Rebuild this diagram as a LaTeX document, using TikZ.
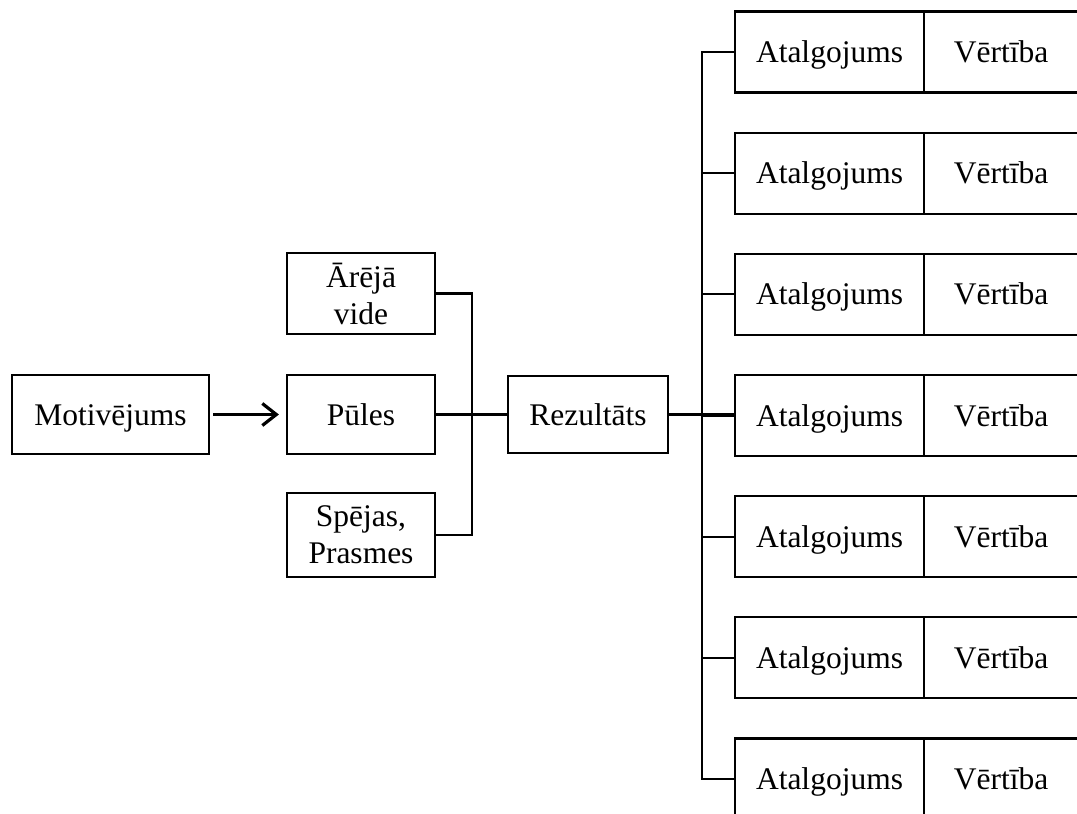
\documentclass[tikz,border=0pt]{standalone}
\usepackage{fontspec}
\setmainfont{Liberation Serif}
\usetikzlibrary{arrows.meta}
\begin{document}
\begin{tikzpicture}[x=1pt,y=-1pt,
  font=\fontsize{31.5}{37}\selectfont,
  box/.style={draw,line width=2.2pt,inner sep=0pt,align=center,anchor=center},
  oneline/.style={text height=28pt,text depth=7pt},
  wire/.style={line width=2.2pt},
  push/.style={line width=3.2pt,-{Straight Barb[length=14pt,width=22pt,line width=3.2pt]}}]
\useasboundingbox (0,0) rectangle (1077,814);
\clip (0,0) rectangle (1077,814);

% left column of factors
\node[box,oneline,minimum width=197pt,minimum height=79pt] (mot) at (110.5,414.5) {Motivējums};
\node[box,minimum width=148pt,minimum height=81pt] (are) at (361,293.5) {Ārējā\\vide};
\node[box,oneline,minimum width=148pt,minimum height=79pt] (pul) at (361,414.5) {Pūles};
\node[box,minimum width=148pt,minimum height=84pt] (spe) at (361,535) {Spējas,\\Prasmes};
\node[box,oneline,minimum width=160pt,minimum height=77pt] (rez) at (588,414.5) {Rezultāts};

% reward / value rows
\foreach \i in {1,...,7}{
  \pgfmathsetmacro{\yc}{52+121.17*(\i-1)}
  \node[box,oneline,minimum width=189pt,minimum height=81pt] (a\i) at (829.5,\yc) {Atalgojums};
  \node[box,oneline,minimum width=154pt,minimum height=81pt] (v\i) at (1001,\yc) {Vērtība};
}

% buses
\coordinate (busL) at (472,414.5);
\coordinate (busR) at (702,414.5);

\draw[push,shorten <=3pt,shorten >=7pt] (mot.east) -- (pul.west);
\draw[wire] (are.east) -| (busL);
\draw[wire] (spe.east) -| (busL);
\draw[wire] (pul.east) -- (rez.west);
\draw[wire] (rez.east) -- (rez.east -| a4.west);
\foreach \i in {1,...,7}{
  \draw[wire] (a\i.west) -| (busR);
}
\end{tikzpicture}
\end{document}
